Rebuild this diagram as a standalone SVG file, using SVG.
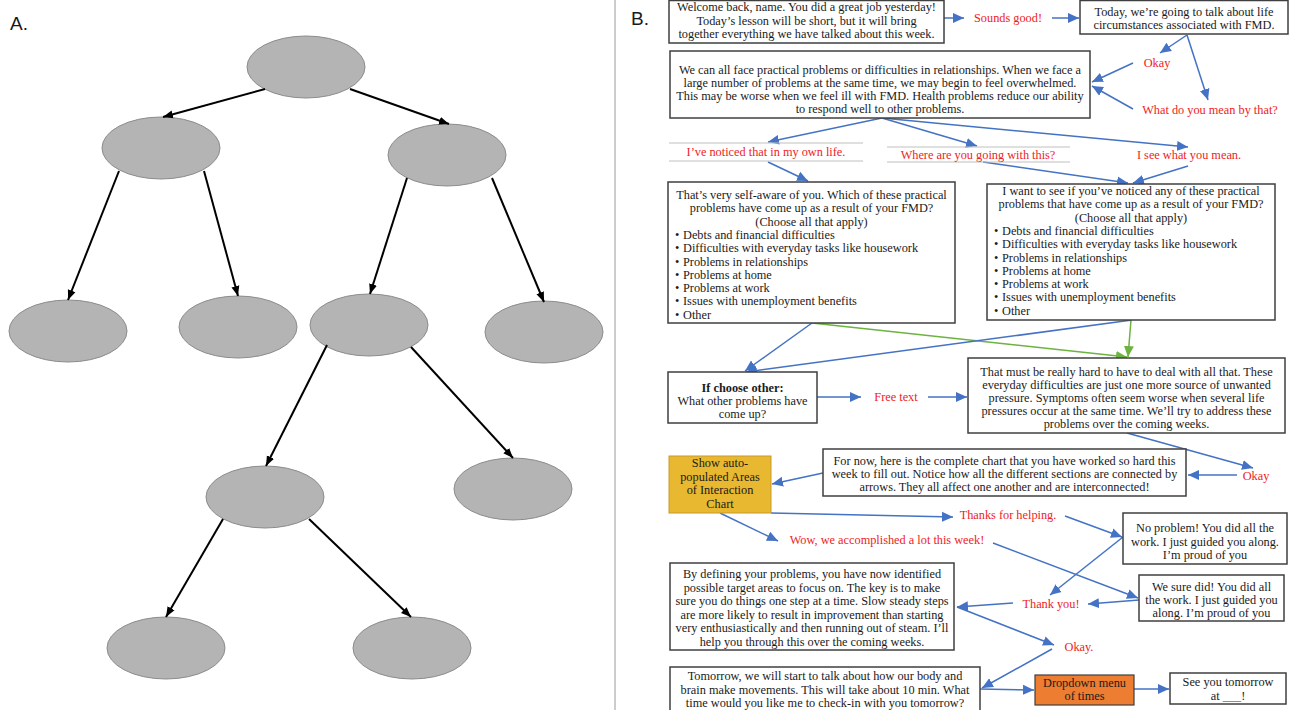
<svg xmlns="http://www.w3.org/2000/svg" width="1290" height="710" viewBox="0 0 1290 710">
<defs>
<style>
.bg{fill:#fff}
.ell{fill:#b4b4b4;stroke:#8c8c8c;stroke-width:1}
.ka{stroke:#000;stroke-width:2;fill:none;marker-end:url(#mk)}
.bl{stroke:#4472c4;stroke-width:1.5;fill:none;marker-end:url(#mb)}
.gr{stroke:#6cb33f;stroke-width:1.5;fill:none;marker-end:url(#mg)}
.box{fill:#fff;stroke:#3f3f3f;stroke-width:1.5}
.sep{stroke:#c0c0c0;stroke-width:1}
.t{font-family:"Liberation Serif","Times New Roman",serif;font-size:12.3px;fill:#1a1a1a}
.c{text-anchor:middle}
.r{font-family:"Liberation Serif","Times New Roman",serif;font-size:12.3px;fill:#ee1c25;text-anchor:middle}
.lab{font-family:"Liberation Sans",Arial,sans-serif;font-size:19px;fill:#1a1a1a}
</style>
<marker id="mk" viewBox="0 0 10 10" refX="10" refY="5" markerWidth="10" markerHeight="10" markerUnits="userSpaceOnUse" orient="auto"><path d="M0,1 L10,5 L0,9 z" fill="#000"/></marker>
<marker id="mb" viewBox="0 0 10 10" refX="10" refY="5" markerWidth="11" markerHeight="11" markerUnits="userSpaceOnUse" orient="auto"><path d="M0,0.5 L10,5 L0,9.5 z" fill="#4472c4"/></marker>
<marker id="mg" viewBox="0 0 10 10" refX="10" refY="5" markerWidth="11" markerHeight="11" markerUnits="userSpaceOnUse" orient="auto"><path d="M0,0.5 L10,5 L0,9.5 z" fill="#6cb33f"/></marker>
</defs>
<rect class="bg" x="0" y="0" width="1290" height="710"/>
<line x1="615" y1="0" x2="615" y2="710" stroke="#9a9a9a" stroke-width="1"/>
<text class="lab" x="10" y="30">A.</text>
<text class="lab" x="631" y="25">B.</text>

<!-- Panel A nodes -->
<g id="a-root"><ellipse class="ell" cx="306" cy="67" rx="59" ry="31"/></g>
<g id="a-l"><ellipse class="ell" cx="161" cy="148" rx="59" ry="31"/></g>
<g id="a-r"><ellipse class="ell" cx="447" cy="155" rx="59" ry="31"/></g>
<g id="a-ll"><ellipse class="ell" cx="68" cy="331" rx="59" ry="31"/></g>
<g id="a-lr"><ellipse class="ell" cx="238" cy="327" rx="59" ry="31"/></g>
<g id="a-rl"><ellipse class="ell" cx="369" cy="325" rx="59" ry="31"/></g>
<g id="a-rr"><ellipse class="ell" cx="544" cy="332" rx="59" ry="31"/></g>
<g id="a-rll"><ellipse class="ell" cx="265" cy="497" rx="59" ry="31"/></g>
<g id="a-rlr"><ellipse class="ell" cx="513" cy="489" rx="59" ry="31"/></g>
<g id="a-rlll"><ellipse class="ell" cx="166" cy="648" rx="59" ry="31"/></g>
<g id="a-rllr"><ellipse class="ell" cx="412" cy="648" rx="59" ry="31"/></g>

<g id="a-connectors">
<line class="ka" x1="265" y1="89" x2="163" y2="117"/>
<line class="ka" x1="350" y1="89" x2="449" y2="124"/>
<line class="ka" x1="119" y1="171" x2="68" y2="300"/>
<line class="ka" x1="204" y1="171" x2="238" y2="296"/>
<line class="ka" x1="407" y1="178" x2="370" y2="294"/>
<line class="ka" x1="492" y1="178" x2="544" y2="302"/>
<line class="ka" x1="327" y1="345" x2="266" y2="466"/>
<line class="ka" x1="411" y1="347" x2="513" y2="458"/>
<line class="ka" x1="223" y1="519" x2="166" y2="617"/>
<line class="ka" x1="309" y1="519" x2="411" y2="617"/>
</g>

<!-- Panel B connectors -->
<g id="b-connectors">
<line class="bl" x1="944" y1="18" x2="964" y2="18"/>
<line class="bl" x1="1052" y1="18" x2="1079" y2="18"/>
<line class="bl" x1="1187" y1="35" x2="1160" y2="53"/>
<line class="bl" x1="1187" y1="35" x2="1208" y2="100"/>
<line class="bl" x1="1133" y1="63" x2="1092" y2="82"/>
<line class="bl" x1="1133" y1="109" x2="1092" y2="86"/>
<line class="bl" x1="882" y1="118" x2="768" y2="142"/>
<line class="bl" x1="882" y1="118" x2="977" y2="146"/>
<line class="bl" x1="882" y1="118" x2="1188" y2="147"/>
<line class="bl" x1="768" y1="162" x2="808" y2="181"/>
<line class="bl" x1="983" y1="162" x2="1128" y2="183"/>
<line class="bl" x1="1188" y1="166" x2="1133" y2="183"/>
<line class="bl" x1="812" y1="323" x2="745" y2="371"/>
<line class="gr" x1="812" y1="323" x2="1127" y2="357"/>
<line class="bl" x1="1132" y1="320" x2="746" y2="372"/>
<line class="gr" x1="1131" y1="320" x2="1128" y2="357"/>
<line class="bl" x1="817" y1="397" x2="861" y2="397"/>
<line class="bl" x1="928" y1="397" x2="967" y2="397"/>
<line class="bl" x1="1127" y1="433" x2="1253" y2="468"/>
<line class="bl" x1="1237" y1="475" x2="1188" y2="475"/>
<line class="bl" x1="823" y1="473" x2="772" y2="484"/>
<line class="bl" x1="720" y1="513" x2="778" y2="541"/>
<line class="bl" x1="771" y1="513" x2="953" y2="517"/>
<line class="bl" x1="1065" y1="516" x2="1122" y2="537"/>
<line class="bl" x1="993" y1="543" x2="1138" y2="598"/>
<line class="bl" x1="1123" y1="537" x2="1050" y2="595"/>
<line class="bl" x1="1139" y1="600" x2="1088" y2="604"/>
<line class="bl" x1="1013" y1="603" x2="957" y2="607"/>
<line class="bl" x1="957" y1="607" x2="1054" y2="645"/>
<line class="bl" x1="1052" y1="649" x2="982" y2="688"/>
<line class="bl" x1="980" y1="689" x2="1034" y2="690"/>
<line class="bl" x1="1134" y1="689" x2="1169" y2="689"/>
</g>

<!-- Panel B nodes -->
<g id="welcome">
<rect class="box" x="669" y="0.5" width="275" height="42.5"/>
<text class="t c" x="806.5"><tspan x="806.5" y="11">Welcome back, name. You did a great job yesterday!</tspan><tspan x="806.5" y="24.5">Today’s lesson will be short, but it will bring</tspan><tspan x="806.5" y="38">together everything we have talked about this week.</tspan></text>
</g>
<g id="sounds-good"><text class="r" x="1008" y="22">Sounds good!</text></g>
<g id="today">
<rect class="box" x="1080" y="0.5" width="208" height="33.5"/>
<text class="t c"><tspan x="1184" y="16">Today, we’re going to talk about life</tspan><tspan x="1184" y="29">circumstances associated with FMD.</tspan></text>
</g>
<g id="okay-1"><text class="r" x="1157" y="67">Okay</text></g>
<g id="what-mean"><text class="r" x="1210" y="114">What do you mean by that?</text></g>
<g id="practical">
<rect class="box" x="670" y="51" width="420" height="67"/>
<text class="t c"><tspan x="880" y="74">We can all face practical problems or difficulties in relationships. When we face a</tspan><tspan x="880" y="87">large number of problems at the same time, we may begin to feel overwhelmed.</tspan><tspan x="880" y="100">This may be worse when we feel ill with FMD. Health problems reduce our ability</tspan><tspan x="880" y="113">to respond well to other problems.</tspan></text>
</g>
<g id="noticed">
<line class="sep" x1="669" y1="143" x2="863" y2="143"/>
<line class="sep" x1="669" y1="161" x2="863" y2="161"/>
<text class="r" x="766" y="156">I’ve noticed that in my own life.</text>
</g>
<g id="where-going">
<line class="sep" x1="887" y1="147" x2="1070" y2="147"/>
<line class="sep" x1="887" y1="162" x2="1070" y2="162"/>
<text class="r" x="978" y="159">Where are you going with this?</text>
</g>
<g id="see-mean"><text class="r" x="1189" y="159">I see what you mean.</text></g>
<g id="list-left">
<rect class="box" x="668" y="182" width="287" height="141"/>
<text class="t c"><tspan x="811.5" y="199">That’s very self-aware of you. Which of these practical</tspan><tspan x="811.5" y="212.3">problems have come up as a result of your FMD?</tspan><tspan x="811.5" y="225.6">(Choose all that apply)</tspan></text>
<text class="t"><tspan x="675" y="238.9">•</tspan><tspan x="683" y="238.9">Debts and financial difficulties</tspan><tspan x="675" y="252.2">•</tspan><tspan x="683" y="252.2">Difficulties with everyday tasks like housework</tspan><tspan x="675" y="265.5">•</tspan><tspan x="683" y="265.5">Problems in relationships</tspan><tspan x="675" y="278.8">•</tspan><tspan x="683" y="278.8">Problems at home</tspan><tspan x="675" y="292.1">•</tspan><tspan x="683" y="292.1">Problems at work</tspan><tspan x="675" y="305.4">•</tspan><tspan x="683" y="305.4">Issues with unemployment benefits</tspan><tspan x="675" y="318.7">•</tspan><tspan x="683" y="318.7">Other</tspan></text>
</g>
<g id="list-right">
<rect class="box" x="987" y="184" width="288" height="136"/>
<text class="t c"><tspan x="1131" y="195">I want to see if you’ve noticed any of these practical</tspan><tspan x="1131" y="208.3">problems that have come up as a result of your FMD?</tspan><tspan x="1131" y="221.6">(Choose all that apply)</tspan></text>
<text class="t"><tspan x="994" y="234.9">•</tspan><tspan x="1002" y="234.9">Debts and financial difficulties</tspan><tspan x="994" y="248.2">•</tspan><tspan x="1002" y="248.2">Difficulties with everyday tasks like housework</tspan><tspan x="994" y="261.5">•</tspan><tspan x="1002" y="261.5">Problems in relationships</tspan><tspan x="994" y="274.8">•</tspan><tspan x="1002" y="274.8">Problems at home</tspan><tspan x="994" y="288.1">•</tspan><tspan x="1002" y="288.1">Problems at work</tspan><tspan x="994" y="301.4">•</tspan><tspan x="1002" y="301.4">Issues with unemployment benefits</tspan><tspan x="994" y="314.7">•</tspan><tspan x="1002" y="314.7">Other</tspan></text>
</g>
<g id="choose-other">
<rect class="box" x="668" y="372" width="149" height="51"/>
<text class="t c"><tspan x="742.5" y="392" font-weight="bold">If choose other:</tspan><tspan x="742.5" y="405">What other problems have</tspan><tspan x="742.5" y="418">come up?</tspan></text>
</g>
<g id="free-text"><text class="r" x="896" y="401">Free text</text></g>
<g id="hard">
<rect class="box" x="968" y="358" width="317" height="75"/>
<text class="t c"><tspan x="1126.5" y="376">That must be really hard to have to deal with all that. These</tspan><tspan x="1126.5" y="389">everyday difficulties are just one more source of unwanted</tspan><tspan x="1126.5" y="402">pressure. Symptoms often seem worse when several life</tspan><tspan x="1126.5" y="415">pressures occur at the same time. We’ll try to address these</tspan><tspan x="1126.5" y="428">problems over the coming weeks.</tspan></text>
</g>
<g id="okay-2"><text class="r" x="1256" y="480">Okay</text></g>
<g id="for-now">
<rect class="box" x="823" y="449" width="363" height="47"/>
<text class="t c"><tspan x="1004.5" y="465">For now, here is the complete chart that you have worked so hard this</tspan><tspan x="1004.5" y="478">week to fill out. Notice how all the different sections are connected by</tspan><tspan x="1004.5" y="491">arrows. They all affect one another and are interconnected!</tspan></text>
</g>
<g id="show-chart">
<rect x="669" y="456" width="102" height="57" fill="#e8b830" stroke="#c9992a" stroke-width="1"/>
<text class="t c"><tspan x="720" y="467">Show auto-</tspan><tspan x="720" y="480.5">populated Areas</tspan><tspan x="720" y="494">of Interaction</tspan><tspan x="720" y="507.5">Chart</tspan></text>
</g>
<g id="thanks"><text class="r" x="1008" y="519">Thanks for helping.</text></g>
<g id="wow"><text class="r" x="887" y="544">Wow, we accomplished a lot this week!</text></g>
<g id="no-problem">
<rect class="box" x="1123" y="513" width="164" height="51"/>
<text class="t c"><tspan x="1205" y="532">No problem! You did all the</tspan><tspan x="1205" y="545.5">work. I just guided you along.</tspan><tspan x="1205" y="559">I’m proud of you</tspan></text>
</g>
<g id="we-sure">
<rect class="box" x="1139" y="575" width="145" height="46"/>
<text class="t c"><tspan x="1211.5" y="591">We sure did! You did all</tspan><tspan x="1211.5" y="604">the work. I just guided you</tspan><tspan x="1211.5" y="617">along. I’m proud of you</tspan></text>
</g>
<g id="thank-you"><text class="r" x="1051" y="608">Thank you!</text></g>
<g id="by-defining">
<rect class="box" x="670" y="563" width="284" height="87"/>
<text class="t c"><tspan x="812" y="578">By defining your problems, you have now identified</tspan><tspan x="812" y="591.5">possible target areas to focus on. The key is to make</tspan><tspan x="812" y="605">sure you do things one step at a time. Slow steady steps</tspan><tspan x="812" y="618.5">are more likely to result in improvement than starting</tspan><tspan x="812" y="632">very enthusiastically and then running out of steam. I’ll</tspan><tspan x="812" y="645.5">help you through this over the coming weeks.</tspan></text>
</g>
<g id="okay-3"><text class="r" x="1079" y="651">Okay.</text></g>
<g id="tomorrow">
<rect class="box" x="670" y="667" width="310" height="44"/>
<text class="t c"><tspan x="825" y="680">Tomorrow, we will start to talk about how our body and</tspan><tspan x="825" y="694">brain make movements. This will take about 10 min. What</tspan><tspan x="825" y="707">time would you like me to check-in with you tomorrow?</tspan></text>
</g>
<g id="dropdown">
<rect x="1035" y="675" width="99" height="30" fill="#ed7d31" stroke="#3f3f3f" stroke-width="1.2"/>
<text class="t c"><tspan x="1084.5" y="686.5">Dropdown menu</tspan><tspan x="1084.5" y="700">of times</tspan></text>
</g>
<g id="see-you">
<rect class="box" x="1170" y="673" width="116" height="31"/>
<text class="t c"><tspan x="1228" y="686">See you tomorrow</tspan><tspan x="1228" y="699.5">at <tspan fill="#ee1c25">___</tspan>!</tspan></text>
</g>
</svg>
